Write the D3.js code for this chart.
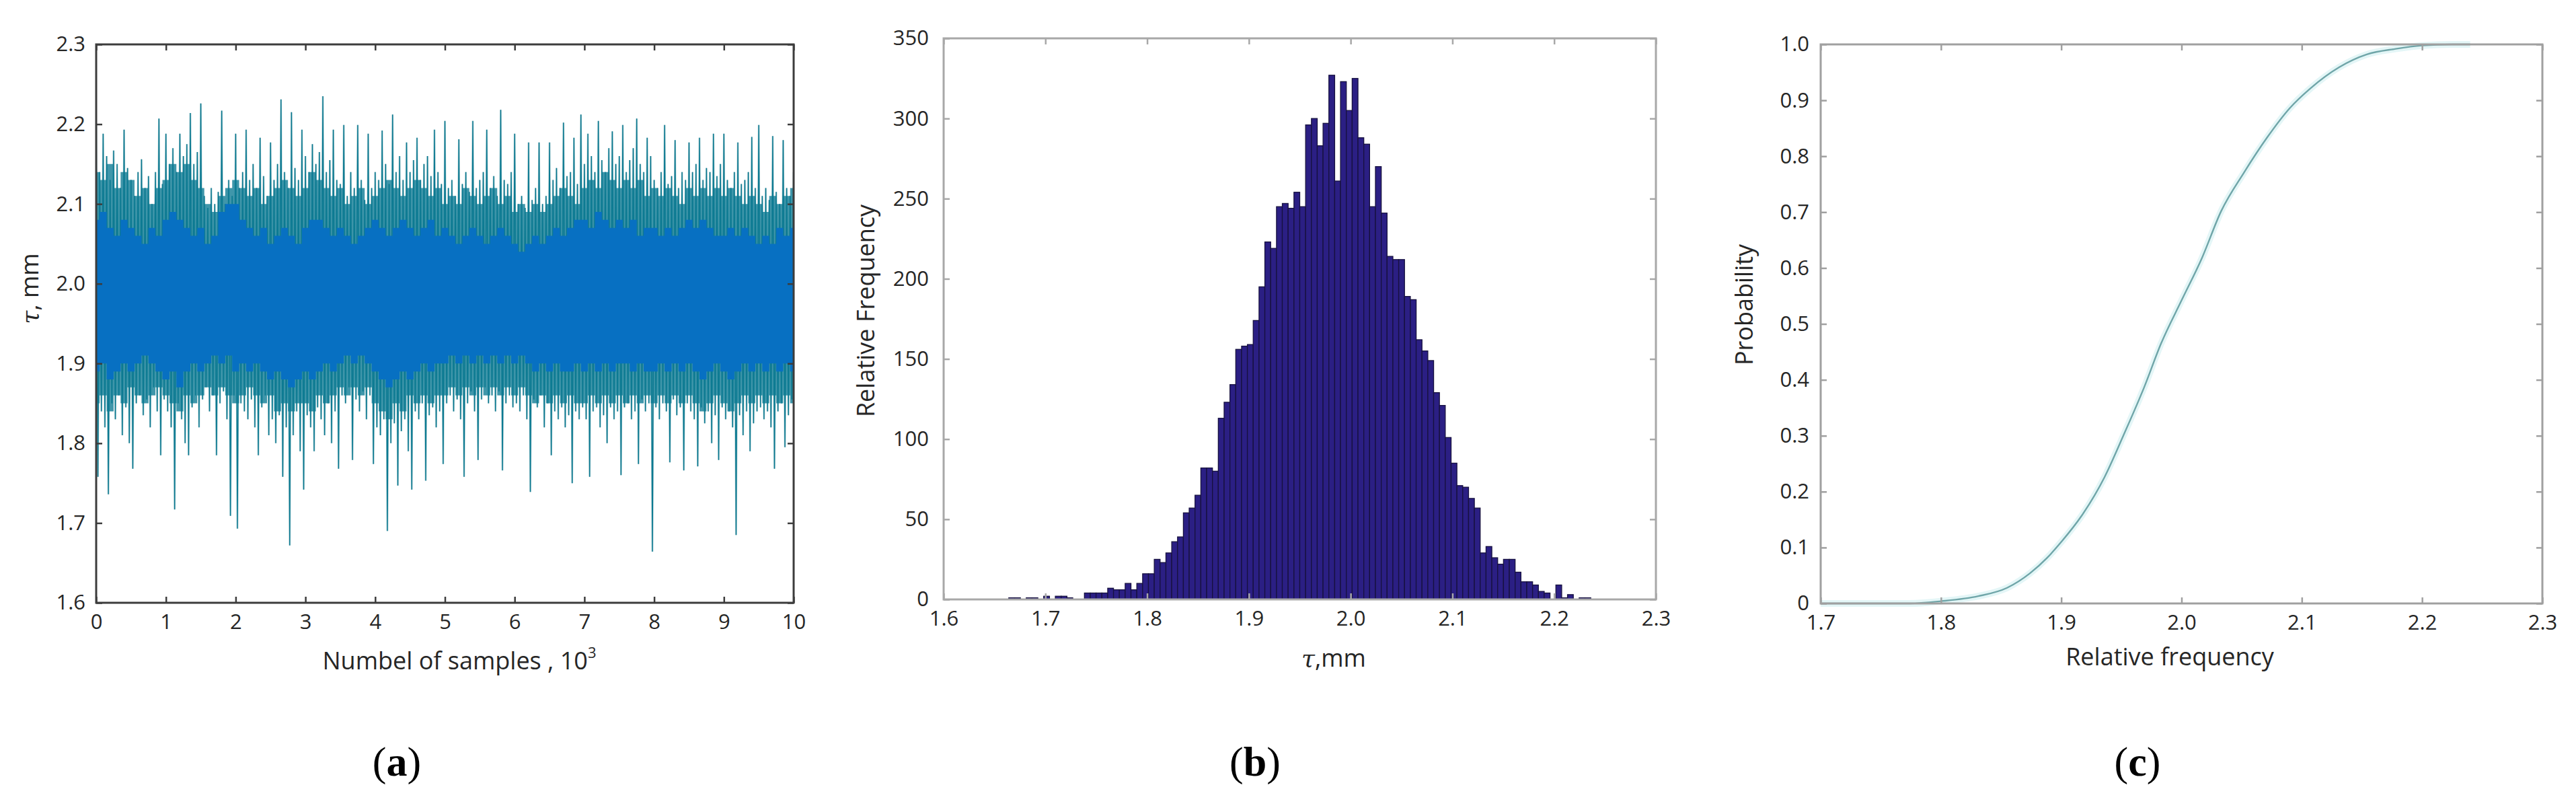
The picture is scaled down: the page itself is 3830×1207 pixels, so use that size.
<!DOCTYPE html>
<html>
<head>
<meta charset="utf-8">
<script src="https://cdn.jsdelivr.net/npm/d3@7"></script>
<style>
  body { margin: 0; background: #fff; }
  svg { display: block; font-family: "Open Sans", "Noto Sans", sans-serif; }
</style>
</head>
<body>
<div id="fig"></div>
<script>
'use strict'

// ---- (a) samples, thousands on x; tips of the trace
const sampleStep = 0.05;
const tracePeaks = [
  2.199, 2.14, 2.188, 2.16, 2.13, 2.167, 2.15, 2.12, 2.193, 2.145,
  2.13, 2.11, 2.14, 2.156, 2.12, 2.135, 2.10, 2.14, 2.207, 2.125,
  2.188, 2.15, 2.17, 2.14, 2.188, 2.16, 2.175, 2.214, 2.15, 2.165,
  2.226, 2.11, 2.095, 2.12, 2.10, 2.115, 2.217, 2.10, 2.13, 2.11,
  2.188, 2.12, 2.14, 2.193, 2.13, 2.15, 2.12, 2.183, 2.135, 2.11,
  2.177, 2.13, 2.15, 2.231, 2.14, 2.12, 2.215, 2.145, 2.13, 2.193,
  2.16, 2.14, 2.175, 2.15, 2.165, 2.235, 2.14, 2.155, 2.193, 2.13,
  2.125, 2.199, 2.11, 2.14, 2.12, 2.199, 2.13, 2.105, 2.188, 2.12,
  2.14, 2.13, 2.192, 2.15, 2.125, 2.212, 2.14, 2.16, 2.13, 2.177,
  2.14, 2.155, 2.183, 2.13, 2.15, 2.16, 2.135, 2.193, 2.14, 2.125,
  2.204, 2.12, 2.13, 2.11, 2.181, 2.125, 2.14, 2.115, 2.204, 2.12,
  2.13, 2.14, 2.193, 2.12, 2.135, 2.11, 2.218, 2.13, 2.125, 2.14,
  2.188, 2.10, 2.11, 2.095, 2.177, 2.105, 2.12, 2.177, 2.10, 2.11,
  2.177, 2.13, 2.145, 2.12, 2.202, 2.135, 2.14, 2.183, 2.125, 2.212,
  2.15, 2.188, 2.16, 2.14, 2.204, 2.155, 2.14, 2.17, 2.191, 2.15,
  2.16, 2.199, 2.14, 2.155, 2.17, 2.207, 2.15, 2.14, 2.183, 2.16,
  2.13, 2.12, 2.14, 2.199, 2.125, 2.135, 2.18, 2.12, 2.14, 2.13,
  2.177, 2.14, 2.15, 2.183, 2.13, 2.145, 2.14, 2.188, 2.135, 2.15,
  2.188, 2.13, 2.12, 2.14, 2.177, 2.125, 2.13, 2.14, 2.184, 2.12,
  2.199, 2.11, 2.12, 2.105, 2.185, 2.115, 2.10, 2.18, 2.12, 2.11, 2.14
];
const traceTroughs = [
  1.758, 1.84, 1.82, 1.736, 1.85, 1.83, 1.86, 1.81, 1.845, 1.80,
  1.768, 1.85, 1.86, 1.835, 1.855, 1.82, 1.87, 1.84, 1.785, 1.855,
  1.84, 1.82, 1.717, 1.85, 1.83, 1.80, 1.785, 1.845, 1.86, 1.82,
  1.855, 1.87, 1.84, 1.86, 1.785, 1.85, 1.865, 1.83, 1.709, 1.86,
  1.693, 1.85, 1.84, 1.83, 1.855, 1.82, 1.785, 1.845, 1.86, 1.81,
  1.83, 1.80, 1.835, 1.758, 1.82, 1.672, 1.81, 1.84, 1.79, 1.742,
  1.835, 1.82, 1.79, 1.845, 1.83, 1.81, 1.85, 1.80, 1.84, 1.768,
  1.86, 1.85, 1.87, 1.779, 1.855, 1.84, 1.865, 1.83, 1.86, 1.774,
  1.82, 1.81, 1.83, 1.69, 1.80, 1.825, 1.747, 1.815, 1.83, 1.79,
  1.742, 1.84, 1.83, 1.85, 1.753, 1.835, 1.845, 1.82, 1.84, 1.774,
  1.85, 1.86, 1.84, 1.855, 1.83, 1.758, 1.85, 1.865, 1.84, 1.779,
  1.855, 1.87, 1.85, 1.86, 1.84, 1.865, 1.766, 1.85, 1.86, 1.845,
  1.85, 1.84, 1.86, 1.83, 1.739, 1.855, 1.845, 1.86, 1.82, 1.85,
  1.785, 1.84, 1.83, 1.845, 1.82, 1.835, 1.75, 1.84, 1.83, 1.845,
  1.83, 1.758, 1.84, 1.845, 1.82, 1.835, 1.80, 1.845, 1.83, 1.84,
  1.76, 1.845, 1.85, 1.83, 1.84, 1.774, 1.855, 1.84, 1.85, 1.664,
  1.845, 1.83, 1.85, 1.84, 1.776, 1.855, 1.835, 1.845, 1.766, 1.85,
  1.84, 1.83, 1.771, 1.845, 1.825, 1.84, 1.80, 1.835, 1.779, 1.845,
  1.83, 1.84, 1.82, 1.685, 1.835, 1.81, 1.84, 1.79, 1.825, 1.84,
  1.845, 1.83, 1.84, 1.82, 1.768, 1.84, 1.85, 1.795, 1.835, 1.855
];
// envelopes of the dense parts of the trace, every 0.1 thousand samples
const bandStep = 0.1;
const fringeTop = [
  2.14, 2.13, 2.15, 2.12, 2.14, 2.13, 2.11, 2.12, 2.10, 2.12,
  2.13, 2.15, 2.14, 2.15, 2.13, 2.12, 2.10, 2.09, 2.11, 2.12,
  2.13, 2.12, 2.11, 2.12, 2.10, 2.11, 2.12, 2.13, 2.12, 2.11,
  2.12, 2.14, 2.13, 2.12, 2.11, 2.12, 2.10, 2.11, 2.12, 2.10,
  2.11, 2.12, 2.13, 2.12, 2.11, 2.12, 2.13, 2.12, 2.11, 2.12,
  2.10, 2.11, 2.10, 2.12, 2.11, 2.10, 2.11, 2.12, 2.10, 2.11,
  2.09, 2.10, 2.09, 2.10, 2.09, 2.10, 2.11, 2.12, 2.11, 2.10,
  2.12, 2.13, 2.12, 2.14, 2.13, 2.12, 2.13, 2.12, 2.13, 2.11,
  2.12, 2.11, 2.12, 2.11, 2.10, 2.12, 2.11, 2.12, 2.11, 2.12,
  2.11, 2.12, 2.11, 2.10, 2.11, 2.10, 2.09, 2.11, 2.10, 2.11, 2.12
];
const fringeBottom = [
  1.85, 1.86, 1.84, 1.86, 1.85, 1.87, 1.86, 1.85, 1.86, 1.87,
  1.86, 1.85, 1.84, 1.86, 1.85, 1.86, 1.87, 1.86, 1.87, 1.86,
  1.85, 1.86, 1.87, 1.86, 1.85, 1.86, 1.84, 1.85, 1.84, 1.85,
  1.85, 1.84, 1.86, 1.85, 1.86, 1.87, 1.86, 1.87, 1.86, 1.87,
  1.85, 1.84, 1.83, 1.85, 1.84, 1.86, 1.85, 1.86, 1.85, 1.86,
  1.86, 1.87, 1.86, 1.87, 1.86, 1.87, 1.86, 1.87, 1.86, 1.87,
  1.86, 1.87, 1.86, 1.85, 1.86, 1.85, 1.86, 1.85, 1.86, 1.85,
  1.85, 1.86, 1.85, 1.86, 1.85, 1.86, 1.85, 1.86, 1.85, 1.86,
  1.85, 1.86, 1.85, 1.86, 1.85, 1.86, 1.85, 1.84, 1.85, 1.86,
  1.85, 1.84, 1.85, 1.86, 1.85, 1.86, 1.85, 1.86, 1.85, 1.86, 1.85
];
const coreTop = [
  2.08, 2.09, 2.07, 2.06, 2.08, 2.07, 2.06, 2.05, 2.07, 2.06,
  2.08, 2.09, 2.08, 2.07, 2.06, 2.07, 2.05, 2.06, 2.09, 2.10,
  2.10, 2.08, 2.07, 2.06, 2.07, 2.05, 2.06, 2.07, 2.06, 2.05,
  2.07, 2.08, 2.08, 2.07, 2.06, 2.07, 2.06, 2.05, 2.06, 2.07,
  2.08, 2.07, 2.06, 2.07, 2.08, 2.07, 2.06, 2.07, 2.08, 2.06,
  2.07, 2.06, 2.05, 2.06, 2.07, 2.06, 2.05, 2.06, 2.07, 2.06,
  2.05, 2.04, 2.05, 2.06, 2.05, 2.06, 2.07, 2.06, 2.07, 2.08,
  2.08, 2.07, 2.09, 2.08, 2.07, 2.08, 2.07, 2.08, 2.06, 2.07,
  2.07, 2.06, 2.07, 2.06, 2.07, 2.08, 2.07, 2.08, 2.07, 2.06,
  2.06, 2.07, 2.06, 2.07, 2.06, 2.05, 2.06, 2.05, 2.07, 2.06, 2.07
];
const coreBottom = [
  1.89, 1.90, 1.88, 1.89, 1.90, 1.89, 1.90, 1.91, 1.90, 1.89,
  1.88, 1.89, 1.87, 1.89, 1.90, 1.89, 1.90, 1.91, 1.90, 1.91,
  1.89, 1.90, 1.89, 1.90, 1.89, 1.88, 1.89, 1.88, 1.87, 1.88,
  1.89, 1.88, 1.89, 1.90, 1.89, 1.90, 1.91, 1.90, 1.91, 1.90,
  1.89, 1.88, 1.87, 1.88, 1.89, 1.88, 1.89, 1.90, 1.89, 1.90,
  1.90, 1.91, 1.90, 1.91, 1.90, 1.91, 1.90, 1.91, 1.90, 1.91,
  1.90, 1.91, 1.90, 1.89, 1.90, 1.89, 1.90, 1.89, 1.89, 1.90,
  1.89, 1.90, 1.89, 1.90, 1.89, 1.90, 1.90, 1.89, 1.90, 1.89,
  1.89, 1.90, 1.89, 1.90, 1.89, 1.90, 1.89, 1.88, 1.89, 1.90,
  1.89, 1.88, 1.89, 1.90, 1.89, 1.90, 1.89, 1.90, 1.89, 1.90, 1.89
];
const aXTicks = [0, 1, 2, 3, 4, 5, 6, 7, 8, 9, 10];
const aYTicks = [1.6, 1.7, 1.8, 1.9, 2.0, 2.1, 2.2, 2.3];

// ---- (b) histogram, 100 bins
const binStart = 1.664;
const binWidth = 0.00572;
const histCounts = [
  1, 1, 0, 1, 1, 0, 2, 0, 2, 2,
  1, 0, 0, 4, 4, 4, 4, 7, 6, 6,
  10, 6, 10, 16, 16, 25, 23, 29, 36, 39,
  54, 57, 65, 82, 82, 80, 113, 123, 134, 156,
  158, 159, 174, 195, 223, 219, 245, 247, 244, 254,
  245, 296, 300, 283, 297, 327, 261, 323, 305, 325,
  288, 284, 245, 270, 241, 214, 212, 212, 189, 187,
  162, 155, 149, 129, 121, 101, 85, 71, 70, 63,
  57, 29, 33, 26, 22, 25, 25, 17, 11, 11,
  9, 5, 4, 0, 9, 1, 3, 0, 1, 1
];
const bXTicks = [1.6, 1.7, 1.8, 1.9, 2.0, 2.1, 2.2, 2.3];
const bYTicks = [0, 50, 100, 150, 200, 250, 300, 350];

// ---- (c) cumulative probability
const cdfX = [1.70, 1.774, 1.80, 1.831, 1.855, 1.874, 1.888, 1.90, 1.917, 1.936, 1.952, 1.969, 1.983,
  2.00, 2.017, 2.033, 2.052, 2.071, 2.09, 2.107, 2.131, 2.154, 2.178, 2.20, 2.225, 2.24];
const cdfP = [0, 0, 0.004, 0.013, 0.028, 0.054, 0.081, 0.11, 0.157, 0.226, 0.302, 0.387, 0.465,
  0.542, 0.618, 0.702, 0.771, 0.833, 0.886, 0.921, 0.959, 0.982, 0.992, 0.998, 1.0, 1.0];
const cXTicks = [1.7, 1.8, 1.9, 2.0, 2.1, 2.2, 2.3];
const cYTicks = [0, 0.1, 0.2, 0.3, 0.4, 0.5, 0.6, 0.7, 0.8, 0.9, 1.0];

const W = 3830, H = 1207;
const svg = d3.select("#fig").append("svg")
  .attr("width", W)
  .attr("height", H);
svg.append("rect").attr("width", W).attr("height", H).attr("fill", "#fff");

// box with inward ticks on all four sides, MATLAB style
function frame(g, x, y, xt, yt, fx, fy, col, w, h, pad) {
  let ticks = [
    [d3.axisBottom(x).tickValues(xt).tickFormat(fx), "translate(0," + h + ")", 17],
    [d3.axisTop(x).tickValues(xt).tickFormat(""), null, 17],
    [d3.axisLeft(y).tickValues(yt).tickFormat(fy), null, pad],
    [d3.axisRight(y).tickValues(yt).tickFormat(""), "translate(" + w + ",0)", 17]
  ];
  ticks.forEach(function(t) {
    let a = g.append("g")
      .attr("transform", t[1])
      .call(t[0].tickSizeInner(-9).tickSizeOuter(0).tickPadding(t[2]));
    a.select(".domain").remove();
    a.selectAll("line").attr("stroke", col).attr("stroke-width", 2.5);
    a.selectAll("text")
      .attr("fill", "#262626")
      .style("font-size", "31px")
      .style("font-family", "'Open Sans', 'Noto Sans', sans-serif");
  });
  g.append("rect")
    .attr("width", w)
    .attr("height", h)
    .attr("fill", "none")
    .attr("stroke", col)
    .attr("stroke-width", 3);
}

function label(txt, x, y, rot) {
  return svg.append("text")
    .attr("transform", "translate(" + x + "," + y + ")" + (rot ? " rotate(-90)" : ""))
    .attr("text-anchor", "middle")
    .attr("dy", "0.35em")
    .attr("fill", "#262626")
    .style("font-size", "36px")
    .text(txt);
}

// ---------- (a)
(function() {
  let m = { left: 143, top: 66 }, w = 1037, h = 830;
  let x = d3.scaleLinear().domain([0, 10]).range([0, w]),
    y = d3.scaleLinear().domain([1.6, 2.3]).range([h, 0]);
  let g = svg.append("g").attr("transform", "translate(" + m.left + "," + m.top + ")");

  g.append("clipPath").attr("id", "clipA")
    .append("rect").attr("width", w).attr("height", h);

  let trace = [];
  tracePeaks.forEach(function(v, i) {
    trace.push({ k: i * sampleStep, v: v });
    if (i < traceTroughs.length) trace.push({ k: (i + 0.5) * sampleStep, v: traceTroughs[i] });
  });
  let line = d3.line()
    .x(function(d) { return x(d.k); })
    .y(function(d) { return y(d.v); });

  let band = fringeTop.map(function(v, i) {
    return { k: i * bandStep, hi: v, lo: fringeBottom[i], chi: coreTop[i], clo: coreBottom[i] };
  });

  let plot = g.append("g").attr("clip-path", "url(#clipA)");
  plot.append("path").datum(trace)
    .attr("d", line)
    .attr("fill", "none")
    .attr("stroke", "#a3c7cc")
    .attr("stroke-width", 2.6);
  plot.append("path").datum(band)
    .attr("d", d3.area()
      .curve(d3.curveStep)
      .x(function(d) { return x(d.k); })
      .y0(function(d) { return y(d.lo); })
      .y1(function(d) { return y(d.hi); }))
    .attr("fill", "#0f7c95")
    .attr("fill-opacity", 0.8);
  plot.append("path").datum(trace)
    .attr("d", line)
    .attr("fill", "none")
    .attr("stroke", "#0c7a92")
    .attr("stroke-width", 1.4);
  plot.append("path").datum(band)
    .attr("d", d3.area()
      .curve(d3.curveStep)
      .x(function(d) { return x(d.k); })
      .y0(function(d) { return y(d.clo); })
      .y1(function(d) { return y(d.chi); }))
    .attr("fill", "#0770c2");

  frame(g, x, y, aXTicks, aYTicks, d3.format("d"), d3.format(".1f"), "#3c3c3c", w, h, 16);

  let t = label("", 44, 429, true);
  t.append("tspan").style("font-style", "italic").style("font-family", "'DejaVu Serif', serif").text("τ");
  t.append("tspan").text(", mm");
  let xl = label("", 683, 982, false);
  xl.append("tspan").text("Numbel of samples , 10");
  xl.append("tspan").attr("dy", "-0.75em").style("font-size", "22px").text("3");
})();

// ---------- (b)
(function() {
  let m = { left: 1403, top: 57 }, w = 1059, h = 834;
  let x = d3.scaleLinear().domain([1.6, 2.3]).range([0, w]),
    y = d3.scaleLinear().domain([0, 350]).range([h, 0]);
  let g = svg.append("g").attr("transform", "translate(" + m.left + "," + m.top + ")");

  g.selectAll("rect.bar")
    .data(histCounts)
    .enter().append("rect")
    .attr("class", "bar")
    .attr("x", function(d, i) { return x(binStart + i * binWidth); })
    .attr("width", function(d, i) { return x(binStart + (i + 1) * binWidth) - x(binStart + i * binWidth); })
    .attr("y", function(d) { return y(d); })
    .attr("height", function(d) { return y(0) - y(d); })
    .attr("fill", "#2b1f84")
    .attr("stroke", function(d) { return d > 0 ? "#17113f" : "none"; })
    .attr("stroke-width", 1.3);

  frame(g, x, y, bXTicks, bYTicks, d3.format(".1f"), d3.format("d"), "#a8a8a8", w, h, 22);

  label("Relative Frequency", 1287, 462, true);
  let xl = label("", 1983, 978, false);
  xl.append("tspan").style("font-style", "italic").style("font-family", "'DejaVu Serif', serif").text("τ");
  xl.append("tspan").text(",mm");
})();

// ---------- (c)
(function() {
  let m = { left: 2707, top: 66 }, w = 1073, h = 831;
  let x = d3.scaleLinear().domain([1.7, 2.3]).range([0, w]),
    y = d3.scaleLinear().domain([0, 1]).range([h, 0]);
  let g = svg.append("g").attr("transform", "translate(" + m.left + "," + m.top + ")");

  let pts = cdfX.map(function(v, i) { return { k: v, p: cdfP[i] }; });
  let line = d3.line()
    .curve(d3.curveMonotoneX)
    .x(function(d) { return x(d.k); })
    .y(function(d) { return y(d.p); });
  g.append("path").datum(pts)
    .attr("d", line)
    .attr("fill", "none")
    .attr("stroke", "#e4f6f7")
    .attr("stroke-width", 10);
  g.append("path").datum(pts)
    .attr("d", line)
    .attr("fill", "none")
    .attr("stroke", "#6fa5a8")
    .attr("stroke-width", 2.4);

  frame(g, x, y, cXTicks, cYTicks, d3.format(".1f"), function(d) { return d === 0 ? "0" : d3.format(".1f")(d); }, "#a0a0a0", w, h, 17);

  label("Probability", 2593, 453, true);
  label("Relative frequency", 3226, 976, false);
})();

// sub-figure captions
[["a", 590], ["b", 1866], ["c", 3178]].forEach(function(c) {
  let t = svg.append("text")
    .attr("x", c[1])
    .attr("y", 1131)
    .attr("dy", "0.35em")
    .attr("text-anchor", "middle")
    .style("font-family", "'Liberation Serif', 'DejaVu Serif', serif")
    .style("font-size", "62px")
    .attr("fill", "#000");
  t.append("tspan").text("(");
  t.append("tspan").style("font-weight", "bold").text(c[0]);
  t.append("tspan").text(")");
});
</script>
</body>
</html>
